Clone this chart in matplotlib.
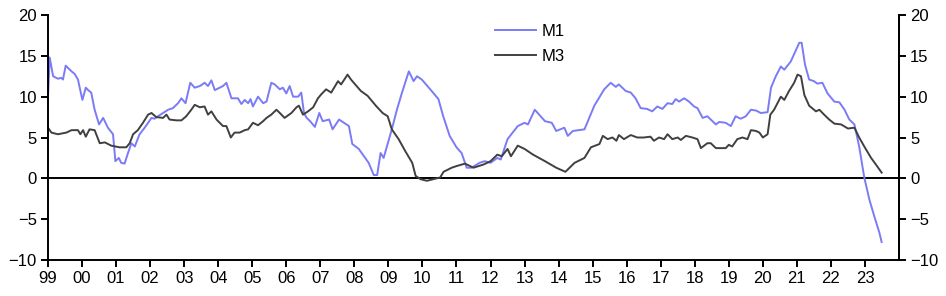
import numpy as np
import matplotlib.pyplot as plt

plt.rcParams['font.family'] = ['Liberation Sans', 'DejaVu Sans']

# M1 growth (% y/y), time in decimal years
m1_t = [1999.0, 1999.05, 1999.15, 1999.29, 1999.39, 1999.44, 1999.52, 1999.69, 1999.78, 1999.88,
        2000.01, 2000.11, 2000.18, 2000.27, 2000.37, 2000.5, 2000.62, 2000.76, 2000.91, 2000.98,
        2001.08, 2001.15, 2001.25, 2001.35, 2001.45, 2001.55, 2001.69, 2001.84, 2001.94, 2002.04,
        2002.13, 2002.23, 2002.38, 2002.53, 2002.67, 2002.82, 2002.92, 2003.04, 2003.18, 2003.31,
        2003.46, 2003.6, 2003.7, 2003.8, 2003.9, 2004.04, 2004.14, 2004.24, 2004.39, 2004.58,
        2004.68, 2004.78, 2004.88, 2004.95, 2005.02, 2005.17, 2005.32, 2005.42, 2005.56, 2005.66,
        2005.81, 2005.9, 2006.0, 2006.1, 2006.2, 2006.35, 2006.44, 2006.52, 2006.6, 2006.7,
        2006.84, 2006.97, 2007.07, 2007.26, 2007.36, 2007.55, 2007.84, 2007.94, 2008.13, 2008.42,
        2008.57, 2008.67, 2008.77, 2008.86, 2009.1, 2009.25, 2009.4, 2009.6, 2009.74, 2009.84,
        2009.98, 2010.27, 2010.47, 2010.61, 2010.8, 2011.0, 2011.15, 2011.3, 2011.44, 2011.68,
        2011.83, 2012.0, 2012.2, 2012.3, 2012.5, 2012.8, 2013.0, 2013.1, 2013.3, 2013.6,
        2013.8, 2013.93, 2014.17, 2014.27, 2014.42, 2014.76, 2015.05, 2015.34, 2015.53, 2015.68,
        2015.77, 2015.97, 2016.12, 2016.26, 2016.41, 2016.6, 2016.75, 2016.9, 2017.05, 2017.2,
        2017.34, 2017.44, 2017.54, 2017.69, 2017.83, 2017.98, 2018.08, 2018.23, 2018.37, 2018.47,
        2018.62, 2018.72, 2018.91, 2019.06, 2019.2, 2019.35, 2019.5, 2019.65, 2019.8, 2019.94,
        2020.14, 2020.24, 2020.38, 2020.53, 2020.63, 2020.82, 2020.97, 2021.07, 2021.14, 2021.24,
        2021.36, 2021.5, 2021.6, 2021.75, 2021.9, 2022.1, 2022.25, 2022.4, 2022.54, 2022.69,
        2022.83, 2022.98, 2023.13, 2023.27, 2023.42, 2023.49]
m1_v = [10.0, 14.8, 12.5, 12.2, 12.3, 12.1, 13.8, 13.1, 12.8, 12.1,
        9.6, 11.1, 10.8, 10.5, 8.4, 6.6, 7.4, 6.2, 5.4, 2.1,
        2.5, 1.9, 1.8, 3.1, 4.3, 3.9, 5.4, 6.2, 6.8, 7.4,
        7.3, 7.6, 8.0, 8.4, 8.6, 9.2, 9.8, 9.2, 11.7, 11.1,
        11.3, 11.7, 11.3, 12.0, 10.8, 11.1, 11.3, 11.7, 9.8, 9.8,
        9.1, 9.6, 9.2, 9.7, 8.8, 10.0, 9.2, 9.4, 11.7, 11.5,
        10.9, 11.1, 10.4, 11.3, 10.0, 10.0, 10.5, 8.0, 7.4, 7.0,
        6.3, 8.0, 7.0, 7.2, 6.0, 7.2, 6.4, 4.2, 3.6, 1.9,
        0.4, 0.4, 3.1, 2.5, 6.0, 8.4, 10.5, 13.1, 11.9, 12.5,
        12.1, 10.7, 9.7, 7.6, 5.2, 3.8, 3.1, 1.3, 1.3, 1.9,
        2.1, 1.9, 2.5, 2.3, 4.8, 6.4, 6.8, 6.6, 8.4, 7.0,
        6.8, 5.8, 6.2, 5.2, 5.8, 6.0, 8.9, 10.9, 11.7, 11.2,
        11.5, 10.7, 10.5, 9.8, 8.6, 8.5, 8.2, 8.8, 8.5, 9.2,
        9.1, 9.7, 9.4, 9.8, 9.4, 8.8, 8.6, 7.4, 7.6, 7.2,
        6.6, 6.9, 6.8, 6.4, 7.6, 7.3, 7.6, 8.4, 8.3, 8.0,
        8.1, 11.1, 12.5, 13.7, 13.3, 14.3, 15.7, 16.6, 16.6, 13.9,
        12.1, 11.9, 11.6, 11.7, 10.4, 9.4, 9.3, 8.4, 7.2, 6.6,
        3.9, 0.1, -2.6, -4.6, -6.6, -7.8]

# M3 growth (% y/y)
m3_t = [1999.0, 1999.1, 1999.29, 1999.54, 1999.69, 1999.88, 1999.95, 2000.03, 2000.11, 2000.22,
        2000.37, 2000.52, 2000.67, 2000.86, 2001.1, 2001.3, 2001.4, 2001.5, 2001.64, 2001.79,
        2001.94, 2002.04, 2002.18, 2002.38, 2002.48, 2002.57, 2002.77, 2002.92, 2003.06, 2003.21,
        2003.31, 2003.46, 2003.6, 2003.7, 2003.8, 2003.95, 2004.14, 2004.24, 2004.37, 2004.48,
        2004.63, 2004.78, 2004.88, 2005.02, 2005.17, 2005.32, 2005.42, 2005.56, 2005.71, 2005.81,
        2005.95, 2006.15, 2006.3, 2006.37, 2006.49, 2006.64, 2006.79, 2006.93, 2007.03, 2007.17,
        2007.32, 2007.52, 2007.61, 2007.8, 2007.9, 2008.19, 2008.39, 2008.63, 2008.83, 2008.98,
        2009.1, 2009.3, 2009.5, 2009.7, 2009.8, 2009.94, 2010.13, 2010.33, 2010.52, 2010.62,
        2010.86, 2011.0, 2011.25, 2011.5, 2011.8, 2012.0, 2012.2, 2012.33, 2012.5, 2012.6,
        2012.8, 2013.0, 2013.25, 2013.6, 2013.93, 2014.2, 2014.47, 2014.76, 2014.95, 2015.2,
        2015.3, 2015.44, 2015.58, 2015.7, 2015.77, 2015.92, 2016.12, 2016.31, 2016.5, 2016.7,
        2016.8, 2016.95, 2017.1, 2017.2, 2017.34, 2017.5, 2017.59, 2017.74, 2017.93, 2018.08,
        2018.18, 2018.37, 2018.47, 2018.62, 2018.91, 2019.0, 2019.1, 2019.25, 2019.4, 2019.55,
        2019.65, 2019.8, 2019.9, 2020.0, 2020.14, 2020.22, 2020.33, 2020.53, 2020.63, 2020.77,
        2020.92, 2021.02, 2021.12, 2021.22, 2021.36, 2021.56, 2021.66, 2021.8, 2021.95, 2022.1,
        2022.3, 2022.5, 2022.69, 2022.83, 2022.98, 2023.18, 2023.32, 2023.49]
m3_v = [6.2, 5.6, 5.4, 5.6, 5.9, 5.9, 5.4, 5.9, 5.1, 6.0,
        5.9, 4.3, 4.4, 4.0, 3.8, 3.8, 4.3, 5.4, 5.9, 6.8,
        7.8, 8.0, 7.5, 7.4, 7.8, 7.2, 7.1, 7.1, 7.6, 8.4,
        9.0, 8.7, 8.8, 7.8, 8.2, 7.2, 6.4, 6.4, 5.0, 5.6,
        5.6, 5.9, 6.0, 6.8, 6.5, 7.0, 7.4, 7.8, 8.4, 8.0,
        7.4, 8.0, 8.7, 8.9, 7.8, 8.2, 8.7, 9.8, 10.3, 10.9,
        10.5, 11.9, 11.5, 12.7, 12.1, 10.7, 10.1, 8.9, 8.0, 7.6,
        6.0, 4.8, 3.3, 1.9, 0.3, -0.1, -0.3, -0.1, 0.1, 0.8,
        1.3, 1.5, 1.8, 1.3, 1.7, 2.1, 2.9, 2.7, 3.6, 2.7,
        4.0, 3.6, 2.9, 2.1, 1.3, 0.8, 1.9, 2.5, 3.8, 4.2,
        5.2, 4.8, 5.0, 4.6, 5.3, 4.8, 5.3, 5.0, 5.0, 5.1,
        4.6, 5.0, 4.8, 5.4, 4.8, 5.0, 4.7, 5.2, 5.0, 4.8,
        3.7, 4.3, 4.3, 3.7, 3.7, 4.1, 3.9, 4.8, 5.0, 4.8,
        5.9, 5.8, 5.6, 5.0, 5.4, 7.8, 8.4, 10.0, 9.6, 10.7,
        11.7, 12.7, 12.5, 10.2, 8.9, 8.2, 8.4, 7.8, 7.2, 6.7,
        6.6, 6.1, 6.2, 5.0, 3.9, 2.5, 1.7, 0.7]

years = list(range(1999, 2024))
year_labels = ['%02d' % (y % 100) for y in years]
y_ticks = [-10, -5, 0, 5, 10, 15, 20]

fig = plt.figure(figsize=(9.46, 2.96), dpi=100)
ax = fig.add_axes([48 / 946, 1 - 260 / 296, (899 - 48) / 946, 245 / 296])

ax.plot(m1_t, m1_v, color='#7b7bf7', lw=1.4, label='M1')
ax.plot(m3_t, m3_v, color='#404040', lw=1.4, label='M3')
ax.axhline(0, color='black', lw=1.4, zorder=1)

ax.set_xlim(1999, 2024)
ax.set_ylim(-10, 20)
ax.set_yticks(y_ticks)
ax.set_xticks(years)
ax.set_xticklabels(year_labels)

ax2 = ax.twinx()
ax2.set_ylim(-10, 20)
ax2.set_yticks(y_ticks)

for a in (ax, ax2):
    a.spines['top'].set_visible(False)
    for s in a.spines.values():
        s.set_linewidth(1.4)
    a.tick_params(direction='out', length=5, width=1.4, labelsize=12, pad=3)
ax2.spines['left'].set_visible(False)
ax2.spines['bottom'].set_visible(False)

ax.legend(loc='upper left', bbox_to_anchor=(0.525, 0.965), frameon=False, fontsize=12,
          handlelength=2.5, handletextpad=0.3, labelspacing=0.6, borderpad=0, borderaxespad=0)

fig.savefig('out.png', dpi=100)
